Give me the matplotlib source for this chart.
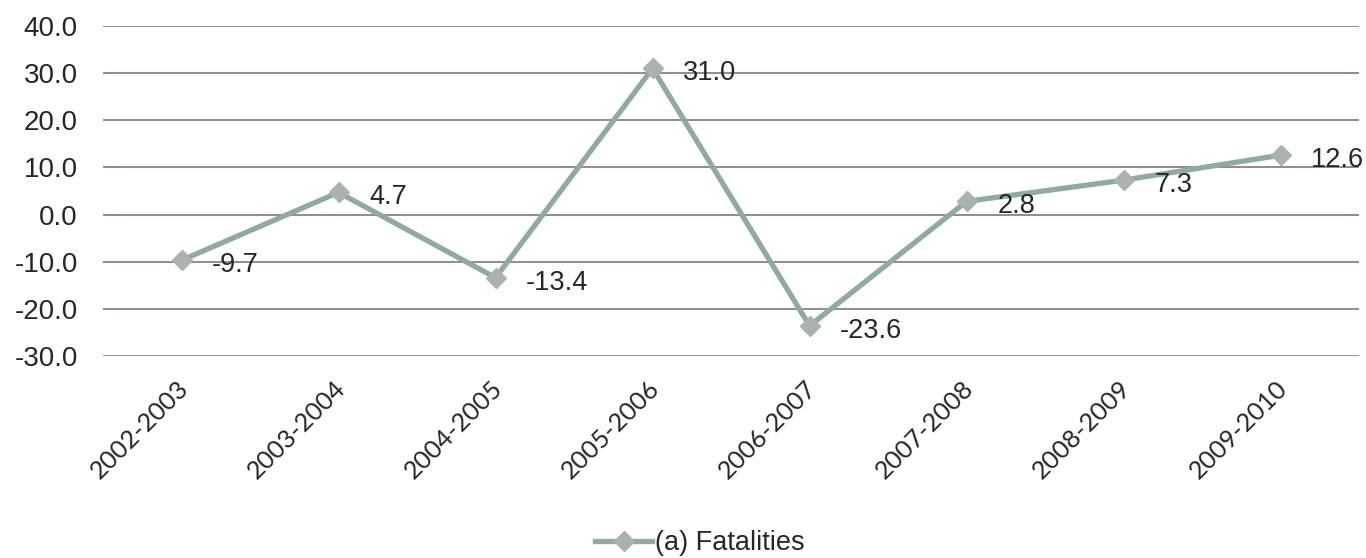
import matplotlib
matplotlib.use("Agg")
import matplotlib.pyplot as plt
import matplotlib.transforms as mtransforms
from matplotlib.lines import Line2D

periods = ["2002-2003", "2003-2004", "2004-2005", "2005-2006",
           "2006-2007", "2007-2008", "2008-2009", "2009-2010"]
fatalities = [-9.7, 4.7, -13.4, 31.0, -23.6, 2.8, 7.3, 12.6]
y_ticks = [-30, -20, -10, 0, 10, 20, 30, 40]
series_name = "(a) Fatalities"

line_color = "#8fa9a4"
marker_color = "#a9b2b0"
grid_color = "#978a86"
text_color = "#262626"

plt.rcParams["font.family"] = ["Liberation Sans", "DejaVu Sans"]

fig = plt.figure(figsize=(13.66, 5.58), dpi=100)
ax = fig.add_axes([0.0754, 0.362, 0.9196, 0.5914])

x = list(range(len(periods)))
ax.plot(x, fatalities, color=line_color, lw=3.8, marker="D", ms=10,
        markerfacecolor=marker_color, markeredgecolor=marker_color,
        zorder=3)

for xi, v in zip(x, fatalities):
    ax.annotate(f"{v:.1f}", (xi, v), xytext=(22, -3.5), textcoords="offset points",
                ha="left", va="center", fontsize=19.5, color=text_color,
                zorder=4)

ax.set_xlim(-0.5, len(periods) - 0.5)
ax.set_ylim(-30, 40)
ax.set_yticks(y_ticks)
ax.set_yticklabels([f"{t:.1f}" for t in y_ticks], fontsize=20, color=text_color)
ax.set_xticks(x)
ax.set_xticklabels(periods, rotation=45, ha="right", rotation_mode="anchor",
                   fontsize=18.3, color=text_color, family=["Lato", "DejaVu Sans"])
ax.tick_params(axis="both", length=0)
ax.tick_params(axis="y", pad=18)
ax.tick_params(axis="x", pad=15)

# nudge the slanted period labels slightly to the left
shift = mtransforms.ScaledTranslation(-5 / 100, 0, fig.dpi_scale_trans)
for lbl in ax.get_xticklabels():
    lbl.set_transform(lbl.get_transform() + shift)

ax.yaxis.grid(True, color=grid_color, lw=1.4)
ax.set_axisbelow(True)
for s in ax.spines.values():
    s.set_visible(False)

handle = Line2D([], [], color=line_color, lw=3.8, marker="D", ms=10,
                markerfacecolor=marker_color, markeredgecolor=marker_color)
fig.legend([handle], [series_name], loc="center",
           bbox_to_anchor=(700 / 1366, 1 - 543 / 558), frameon=False,
           fontsize=19.5, handlelength=2.1, handletextpad=0.1,
           labelcolor=text_color, borderpad=0)

fig.savefig("out.png", dpi=100, facecolor="white")
